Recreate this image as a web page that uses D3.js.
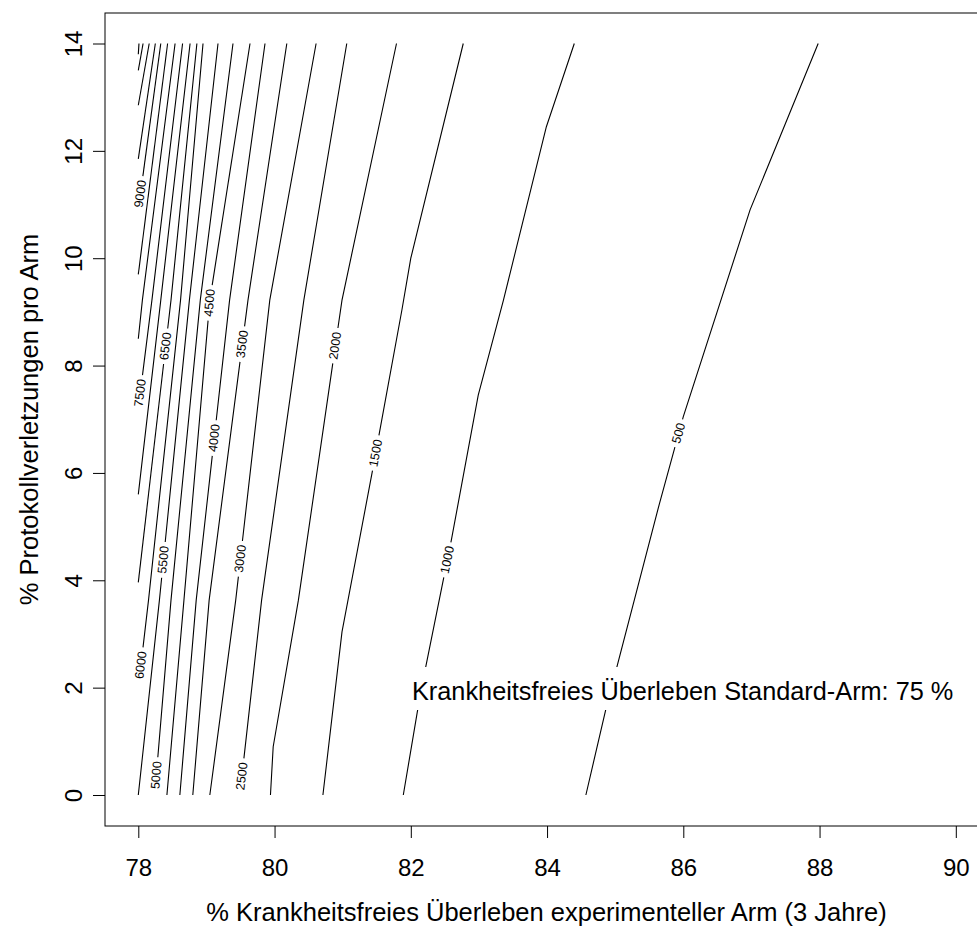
<!DOCTYPE html>
<html>
<head>
<meta charset="utf-8">
<script src="https://cdn.jsdelivr.net/npm/d3@7"></script>
<style>
  body { margin: 0; background: #fff; }
  text { font-family: "Liberation Sans", Arial, Helvetica, sans-serif; fill: #000; }
</style>
</head>
<body>
<svg id="chart" width="977" height="927"></svg>
<script>
// contour levels (sample size)
var levels = [500, 1000, 1500, 2000, 2500, 3000, 3500, 4000, 4500, 5000, 5500,
              6000, 6500, 7000, 7500, 8000, 8500, 9000, 9500, 10000, 10500, 11000];

// vertices of each contour line: [x = % DFS experimental arm, y = % protocol violations]
var contourLines = [
    [[84.57, 0], [84.86, 1.58], [85.65, 5.43], [86.0, 7.05], [86.98, 10.9], [87.98, 14]],
    [[81.89, 0], [82.10, 1.58], [82.22, 2.39], [82.60, 4.78], [82.99, 7.45], [83.36, 9.22], [83.99, 12.45], [84.40, 14]],
    [[80.71, 0], [80.99, 3.04], [81.43, 5.99], [81.87, 9.04], [82.0, 10.0], [82.77, 14]],
    [[79.94, 0], [79.98, 0.9], [80.35, 3.63], [80.99, 9.22], [81.79, 14]],
    [[79.49, 0], [79.81, 3.63], [80.43, 9.22], [81.06, 14]],
    [[79.05, 0], [79.43, 3.63], [79.93, 9.22], [80.61, 14]],
    [[78.80, 0], [79.04, 3.63], [79.61, 9.22], [80.18, 14]],
    [[78.61, 0], [78.85, 3.63], [79.34, 9.22], [79.86, 14]],
    [[78.42, 0], [78.67, 3.63], [79.05, 9.22], [79.64, 14]],
    [[78.24, 0], [78.48, 3.63], [78.91, 9.22], [79.39, 14]],
    [[78.00, 0], [78.31, 3.63], [78.75, 9.22], [79.17, 14]],
    [[78, 2.0], [78.15, 3.63], [78.62, 9.22], [78.95, 14]],
    [[78, 3.96], [78.48, 9.22], [78.86, 14]],
    [[78, 5.6], [78.33, 9.22], [78.76, 14]],
    [[78, 7.2], [78.20, 9.22], [78.65, 14]],
    [[78, 8.5], [78.06, 9.22], [78.54, 14]],
    [[78, 9.7], [78.43, 14]],
    [[78, 10.9], [78.33, 14]],
    [[78, 11.85], [78.25, 14]],
    [[78, 12.85], [78.16, 14]],
    [[78, 13.5], [78.07, 14]],
    [[78, 13.8], [78.01, 14]]
];

// contour labels: level and y position along the line
var labelLevels = [500, 1000, 1500, 2000, 2500, 3000, 3500, 4000, 4500, 5000, 5500, 6000, 6500, 7500, 9000];
var labelY = [6.74, 4.38, 6.37, 8.37, 0.35, 4.4, 8.4, 6.65, 9.17, 0.37, 4.38, 2.42, 8.36, 7.49, 11.2];

var xTicks = [78, 80, 82, 84, 86, 88, 90];
var yTicks = [0, 2, 4, 6, 8, 10, 12, 14];

// Plot frame (R region extends 4% past the data range, right edge is cut by the picture)
var plotLeft = 105, plotTop = 13, plotRight = 988, plotBottom = 826;

var svg = d3.select("#chart");

var x = d3.scaleLinear().domain([78, 90]).range([138.3, 955.8]);
var y = d3.scaleLinear().domain([0, 14]).range([795, 43.5]);

var lines = contourLines.map(function (pts) {
    return pts.map(function (p) { return [x(p[0]), y(p[1])]; });
});

function cumLen(pts) {
    var c = [0];
    for (var i = 1; i < pts.length; i++) {
        c.push(c[i - 1] + Math.hypot(pts[i][0] - pts[i - 1][0], pts[i][1] - pts[i - 1][1]));
    }
    return c;
}

function pointAt(pts, c, s) {
    for (var i = 0; i < pts.length - 1; i++) {
        if (s <= c[i + 1] || i === pts.length - 2) {
            var t = (s - c[i]) / (c[i + 1] - c[i]);
            return [pts[i][0] + t * (pts[i + 1][0] - pts[i][0]), pts[i][1] + t * (pts[i + 1][1] - pts[i][1]), i];
        }
    }
}

function subPath(pts, c, s1, s2) {
    var out = [pointAt(pts, c, s1).slice(0, 2)];
    for (var i = 0; i < pts.length; i++) {
        if (c[i] > s1 && c[i] < s2) out.push(pts[i]);
    }
    out.push(pointAt(pts, c, s2).slice(0, 2));
    return out;
}

var line = d3.line();
var gLines = svg.append("g");
var gLabels = svg.append("g");

function drawPath(pts) {
    gLines.append("path").attr("d", line(pts))
        .attr("fill", "none").attr("stroke", "#000").attr("stroke-width", 1.1);
}

lines.forEach(function (pts, i) {
    var c = cumLen(pts);
    var total = c[c.length - 1];
    var li = labelLevels.indexOf(levels[i]);
    if (li < 0) {
        drawPath(pts);
        return;
    }
    // arc length where the label sits
    var py = y(labelY[li]), s0 = 0;
    for (var k = 0; k < pts.length - 1; k++) {
        var a = pts[k][1], b = pts[k + 1][1];
        if (py <= a && py >= b) {
            s0 = c[k] + (a - py) / (a - b) * (c[k + 1] - c[k]);
            break;
        }
    }
    var p = pointAt(pts, c, s0);
    var seg = p[2];
    var ang = Math.atan2(pts[seg + 1][1] - pts[seg][1], pts[seg + 1][0] - pts[seg][0]) * 180 / Math.PI;
    var t = gLabels.append("text")
        .attr("transform", "translate(" + p[0] + "," + p[1] + ") rotate(" + ang + ")")
        .attr("text-anchor", "middle")
        .attr("dominant-baseline", "central")
        .style("font-size", "12.5px")
        .text(levels[i]);
    var half = t.node().getComputedTextLength() / 2 + 4;
    var s1 = Math.max(0, s0 - half), s2 = Math.min(total, s0 + half);
    // skip tiny stubs left over at the line ends
    if (s1 > 6) drawPath(subPath(pts, c, 0, s1));
    if (s2 < total - 6) drawPath(subPath(pts, c, s2, total));
});

// white legend box with the standard arm note
svg.append("rect")
    .attr("x", 400).attr("y", 667).attr("width", 568).attr("height", 43)
    .attr("fill", "#fff");
svg.append("text")
    .attr("x", 412).attr("y", 700)
    .style("font-size", "25.3px")
    .text("Krankheitsfreies Überleben Standard-Arm: 75 %");

// box
svg.append("rect")
    .attr("x", plotLeft).attr("y", plotTop)
    .attr("width", plotRight - plotLeft).attr("height", plotBottom - plotTop)
    .attr("fill", "none").attr("stroke", "#000").attr("stroke-width", 1);

// x axis
var xAxis = svg.append("g")
    .attr("transform", "translate(0," + plotBottom + ")")
    .call(d3.axisBottom(x).tickValues(xTicks).tickSize(12).tickPadding(21));
xAxis.select(".domain").remove();
xAxis.selectAll("text").style("font-size", "24px").style("font-family", "Liberation Sans, Arial, sans-serif");
xAxis.selectAll("line").attr("stroke", "#000");

// y axis, labels parallel to the axis
var yAxis = svg.append("g")
    .attr("transform", "translate(" + plotLeft + ",0)")
    .call(d3.axisLeft(y).tickValues(yTicks).tickSize(12));
yAxis.select(".domain").remove();
yAxis.selectAll("line").attr("stroke", "#000");
yAxis.selectAll("text")
    .attr("x", null).attr("dy", null)
    .attr("text-anchor", "middle")
    .attr("transform", "translate(-23,0) rotate(-90)")
    .style("font-size", "24px").style("font-family", "Liberation Sans, Arial, sans-serif");

// axis titles
svg.append("text")
    .attr("x", (plotLeft + plotRight) / 2).attr("y", 921)
    .attr("text-anchor", "middle")
    .style("font-size", "25.5px")
    .text("% Krankheitsfreies Überleben experimenteller Arm (3 Jahre)");

svg.append("text")
    .attr("transform", "translate(38," + (plotTop + plotBottom) / 2 + ") rotate(-90)")
    .attr("text-anchor", "middle")
    .style("font-size", "25.5px")
    .text("% Protokollverletzungen pro Arm");
</script>
</body>
</html>
